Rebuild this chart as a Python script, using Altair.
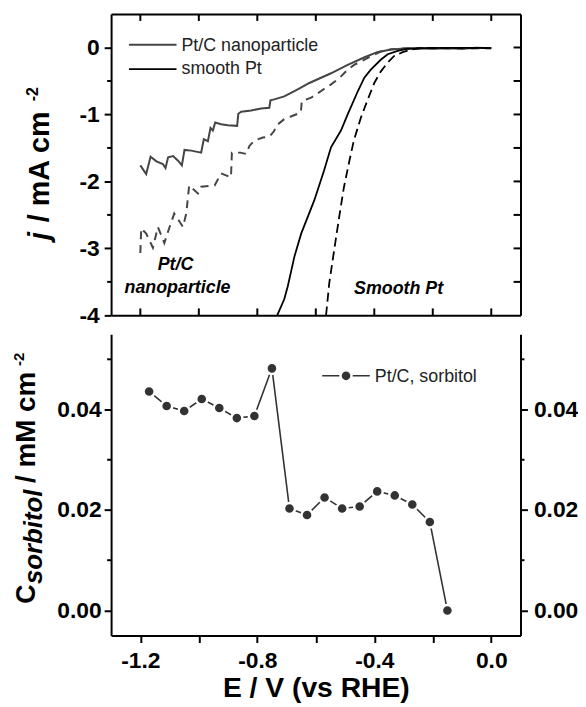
import altair as alt
import pandas as pd

# ---------------- data ----------------
E_ptc = [-1.200, -1.180, -1.165, -1.145, -1.123, -1.114, -1.105, -1.088, -1.071, -1.058,
         -1.049, -1.026, -0.992, -0.983, -0.969, -0.960, -0.952, -0.944, -0.924, -0.901,
         -0.869, -0.865, -0.855, -0.821, -0.787, -0.759, -0.755, -0.742, -0.708, -0.673,
         -0.651, -0.622, -0.548, -0.491, -0.435, -0.390, -0.343, -0.285, -0.200, -0.150,
         -0.100, -0.050, 0.000]
J_ptc = [-1.76, -1.89, -1.63, -1.70, -1.74, -1.80, -1.64, -1.62, -1.69, -1.76,
         -1.53, -1.54, -1.57, -1.37, -1.40, -1.20, -1.24, -1.12, -1.145, -1.16,
         -1.17, -0.99, -0.96, -0.94, -0.91, -0.90, -0.79, -0.775, -0.73, -0.65,
         -0.60, -0.53, -0.385, -0.26, -0.15, -0.07, -0.03, -0.01, -0.02, -0.01,
         -0.02, -0.005, -0.01]

E_ptc_d = [-1.200, -1.197, -1.180, -1.157, -1.140, -1.118, -1.100, -1.084, -1.054, -1.043,
           -1.033, -1.003, -0.992, -0.946, -0.924, -0.890, -0.887, -0.858, -0.838, -0.827,
           -0.810, -0.781, -0.759, -0.742, -0.736, -0.708, -0.685, -0.651, -0.648, -0.616,
           -0.572, -0.548, -0.520, -0.491, -0.469, -0.412, -0.378, -0.340, -0.300, -0.200,
           -0.100, 0.000]
J_ptc_d = [-3.07, -2.70, -2.78, -2.99, -2.68, -2.92, -2.68, -2.48, -2.68, -2.48,
           -2.06, -2.18, -2.08, -2.06, -1.88, -1.94, -1.57, -1.57, -1.59, -1.47,
           -1.39, -1.344, -1.333, -1.244, -1.17, -1.07, -1.03, -0.97, -0.80, -0.75,
           -0.62, -0.55, -0.46, -0.33, -0.26, -0.133, -0.06, -0.025, -0.015, -0.01,
           -0.015, -0.01]

E_sm = [-0.732, -0.708, -0.696, -0.673, -0.650, -0.605, -0.572, -0.548, -0.514, -0.491,
        -0.456, -0.434, -0.412, -0.377, -0.354, -0.320, -0.290, -0.240, -0.150, 0.000]
J_sm = [-4.00, -3.76, -3.57, -3.12, -2.78, -2.28, -1.84, -1.49, -1.24, -1.00,
        -0.65, -0.45, -0.33, -0.18, -0.10, -0.05, -0.02, -0.01, -0.005, -0.005]

E_sm_d = [-0.565, -0.554, -0.537, -0.520, -0.504, -0.486, -0.470, -0.446, -0.420, -0.400,
          -0.378, -0.355, -0.333, -0.303, -0.275, -0.240, -0.150, 0.000]
J_sm_d = [-4.00, -3.52, -3.02, -2.53, -2.09, -1.71, -1.39, -1.05, -0.75, -0.53,
          -0.36, -0.23, -0.13, -0.07, -0.03, -0.01, -0.005, -0.005]

E_sorb = [-1.17, -1.11, -1.05, -0.99, -0.93, -0.87, -0.81, -0.75, -0.69, -0.63,
          -0.57, -0.51, -0.45, -0.39, -0.33, -0.27, -0.21, -0.15]
C_sorb = [0.0436, 0.0407, 0.0397, 0.0421, 0.0403, 0.0383, 0.0387, 0.0482, 0.0203, 0.0190,
          0.0225, 0.0203, 0.0207, 0.0237, 0.0229, 0.0211, 0.0176, 0.0000]

X_TICKS = [-1.2, -1.0, -0.8, -0.6, -0.4, -0.2, 0.0]
J_MAJOR = [-4.0, -3.0, -2.0, -1.0, 0.0]
J_MINOR = [-3.5, -2.5, -1.5, -0.5]
J_RIGHT = [-3.5, -3.0, -2.5, -2.0, -1.5, -1.0, -0.5, 0.0]
C_MAJOR = [0.00, 0.02, 0.04]
C_MINOR = [0.01, 0.03, 0.05]

LEGEND_TOP = ["Pt/C nanoparticle", "smooth Pt"]
LEGEND_BOTTOM = ["Pt/C, sorbitol"]
ANNOT_PTC = ["Pt/C", "nanoparticle"]
ANNOT_SM = ["Smooth Pt"]
YTITLE_TOP = ["j", "/ mA cm", "-2"]
YTITLE_BOT = ["C", "sorbitol", "/ mM cm", "-2"]
XTITLE = "E / V (vs RHE)"

# ---------------- styling ----------------
W, H1, H2 = 413, 304, 304
FONT = "Liberation Sans"
GRAY = "#454545"
DARK = "#333333"

xscale = alt.Scale(domain=[-1.3, 0.1], nice=False, zero=False)
y1scale = alt.Scale(domain=[-4.0, 0.5], nice=False, zero=False)
y2scale = alt.Scale(domain=[-0.005, 0.055], nice=False, zero=False)

x_label_expr = ("abs(round(datum.value*10)) % 4 == 0 ? "
                "(datum.value < -0.001 ? '-' : '') + format(abs(datum.value), '.1f') : ''")
j_label_expr = "(datum.value < -0.001 ? '-' : '') + format(abs(datum.value), 'd')"


def df(xs, ys):
    return pd.DataFrame({"E": xs, "v": ys, "i": list(range(len(xs)))})


def tdf(vals):
    return pd.DataFrame({"t": vals})


one = pd.DataFrame({"a": [0]})


def label(text, x, y, size, weight="normal", style="normal", align="left", baseline="middle",
          angle=0, color="black"):
    return alt.Chart(one).mark_text(text=text, font=FONT, fontSize=size, fontWeight=weight,
                                    fontStyle=style, align=align, baseline=baseline,
                                    angle=angle, color=color).encode(x=alt.value(x), y=alt.value(y))


def vticks(vals, y0, y1):
    return alt.Chart(tdf(vals)).mark_rule(color="black", strokeWidth=2).encode(
        x=alt.X("t:Q", scale=xscale, axis=None), y=alt.value(y0), y2=alt.value(y1))


def hticks(vals, scale, x0, x1):
    return alt.Chart(tdf(vals)).mark_rule(color="black", strokeWidth=2).encode(
        y=alt.Y("t:Q", scale=scale, axis=None), x=alt.value(x0), x2=alt.value(x1))


# ---------------- top panel ----------------
ax_bot_top = alt.Axis(orient="bottom", ticks=False, labels=False, title=None)
ax_top_top = alt.Axis(orient="top", ticks=False, labels=False, title=None)
ax_left_top = alt.Axis(orient="left", values=J_MAJOR, labelExpr=j_label_expr, title=None,
                       tickSize=7, labelPadding=5)
ax_right_top = alt.Axis(orient="right", ticks=False, labels=False, title=None)

l_ptc = alt.Chart(df(E_ptc, J_ptc)).mark_line(color=GRAY, strokeWidth=2, clip=True).encode(
    x=alt.X("E:Q", scale=xscale, axis=ax_bot_top),
    y=alt.Y("v:Q", scale=y1scale, axis=ax_left_top),
    order="i:Q")
l_ptc_d = alt.Chart(df(E_ptc_d, J_ptc_d)).mark_line(color=GRAY, strokeWidth=2, strokeDash=[8, 6], clip=True).encode(
    x=alt.X("E:Q", scale=xscale, axis=ax_top_top),
    y=alt.Y("v:Q", scale=y1scale, axis=ax_right_top),
    order="i:Q")
l_sm = alt.Chart(df(E_sm, J_sm)).mark_line(color="black", strokeWidth=1.8, clip=True).encode(
    x=alt.X("E:Q", scale=xscale, axis=None),
    y=alt.Y("v:Q", scale=y1scale, axis=None),
    order="i:Q")
l_sm_d = alt.Chart(df(E_sm_d, J_sm_d)).mark_line(color="black", strokeWidth=1.8, strokeDash=[9, 5], clip=True).encode(
    x=alt.X("E:Q", scale=xscale, axis=None),
    y=alt.Y("v:Q", scale=y1scale, axis=None),
    order="i:Q")

t_top = vticks(X_TICKS, 0, 7)
t_bot = vticks(X_TICKS, H1, H1 - 7)
t_right = hticks(J_RIGHT, y1scale, W, W - 7)
t_leftminor = hticks(J_MINOR, y1scale, -4, 0)

leg1_rule = alt.Chart(one).mark_rule(color=GRAY, strokeWidth=1.8).encode(
    x=alt.value(18), x2=alt.value(66), y=alt.value(31))
leg2_rule = alt.Chart(one).mark_rule(color="black", strokeWidth=1.8).encode(
    x=alt.value(18), x2=alt.value(66), y=alt.value(55.5))
leg1_txt = label(LEGEND_TOP[0], 71, 32, 18, color="#222")
leg2_txt = label(LEGEND_TOP[1], 71, 56, 18, color="#222")

ann1 = label(ANNOT_PTC[0], 65, 253, 18, "bold", "italic", "center")
ann2 = label(ANNOT_PTC[1], 67, 276, 18, "bold", "italic", "center")
ann3 = label(ANNOT_SM[0], 290, 277, 18, "bold", "italic", "center")

yt1a = label(YTITLE_TOP[0], -63, 228, 29, "bold", "italic", "left", "alphabetic", 270)
yt1b = label(YTITLE_TOP[1], -63, 210, 29, "bold", "normal", "left", "alphabetic", 270)
yt1c = label(YTITLE_TOP[2], -74, 88, 16, "bold", "normal", "left", "alphabetic", 270)

top = alt.layer(l_ptc, l_ptc_d, l_sm, l_sm_d, t_top, t_bot, t_right, t_leftminor,
                leg1_rule, leg2_rule, leg1_txt, leg2_txt,
                ann1, ann2, ann3, yt1a, yt1b, yt1c).resolve_axis(
    x="independent", y="independent").properties(width=W, height=H1)

# ---------------- bottom panel ----------------
ax_bot_bot = alt.Axis(orient="bottom", values=X_TICKS, labelExpr=x_label_expr, tickSize=7,
                      labelPadding=7, title=XTITLE, titleFont=FONT, titleFontSize=28.5,
                      titleFontWeight="bold", titleColor="black", titlePadding=1)
ax_left_bot = alt.Axis(orient="left", values=C_MAJOR, format=".2f", tickSize=7,
                       labelPadding=3, title=None)
ax_right_bot = alt.Axis(orient="right", values=C_MAJOR, format=".2f", tickSize=7,
                        labelPadding=6, title=None)

sorb = df(E_sorb, C_sorb)
b_line = alt.Chart(sorb).mark_line(color=DARK, strokeWidth=1.6).encode(
    x=alt.X("E:Q", scale=xscale, axis=ax_bot_bot),
    y=alt.Y("v:Q", scale=y2scale, axis=ax_left_bot),
    order="i:Q")
b_pts = alt.Chart(sorb).mark_circle(size=125, fill=DARK, stroke="white", strokeWidth=2.5, opacity=1).encode(
    x=alt.X("E:Q", scale=xscale, axis=None),
    y=alt.Y("v:Q", scale=y2scale, axis=ax_right_bot))

tb_left = hticks(C_MINOR, y2scale, -4, 0)
tb_right = hticks(C_MINOR, y2scale, W, W + 4)

bl_rule = alt.Chart(one).mark_rule(color=DARK, strokeWidth=1.6).encode(
    x=alt.value(213), x2=alt.value(261), y=alt.value(42))
bl_pt = alt.Chart(one).mark_circle(size=125, fill=DARK, stroke="white", strokeWidth=2.5, opacity=1).encode(
    x=alt.value(237), y=alt.value(42))
bl_txt = label(LEGEND_BOTTOM[0], 266, 43, 18, color="#222")

yt2a = label(YTITLE_BOT[0], -77, 272, 27, "bold", "normal", "left", "alphabetic", 270)
yt2b = label(YTITLE_BOT[1], -70, 252, 26, "bold", "italic", "left", "alphabetic", 270)
yt2c = label(YTITLE_BOT[2], -77, 150, 28, "bold", "normal", "left", "alphabetic", 270)
yt2d = label(YTITLE_BOT[3], -88, 32, 15, "bold", "normal", "left", "alphabetic", 270)

bottom = alt.layer(b_line, b_pts, tb_left, tb_right, bl_rule, bl_pt, bl_txt,
                   yt2a, yt2b, yt2c, yt2d).resolve_axis(
    x="independent", y="independent").properties(width=W, height=H2)

chart = alt.vconcat(top, bottom, spacing=19, bounds="flush").properties(
    padding={"left": 4, "top": 2, "right": 0, "bottom": 0}
).configure_view(stroke=None).configure_axis(
    domainColor="black", domainWidth=2, tickColor="black", tickWidth=2, grid=False,
    labelFont=FONT, labelFontWeight="bold", labelFontSize=23, labelColor="black",
    labelFlush=False, labelOverlap=False)

chart.save("out.html", embed_options={"renderer": "svg", "actions": False})
